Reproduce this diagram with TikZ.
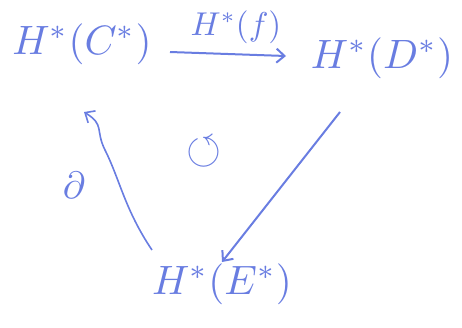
\documentclass[tikz,border=0pt]{standalone}
\usepackage{amssymb}
\usetikzlibrary{arrows.meta}
\definecolor{ink}{RGB}{105,125,225}
\newcommand{\bigtxt}[1]{\scalebox{4.1}{$#1$}}
\newcommand{\midtxt}[1]{\scalebox{3.3}{$#1$}}
\begin{document}
\begin{tikzpicture}[x=1pt,y=-1pt,
  obj/.style={text=ink,inner sep=2pt},
  lbl/.style={text=ink,inner sep=1pt},
  arr/.style={draw=ink,line width=2pt,-{Straight Barb[length=8pt,width=14pt]}}]
\useasboundingbox (0,0) rectangle (462,327);
\node[obj] (C) at (82,44) {\bigtxt{H^*(C^*)}};
\node[obj] (D) at (382,58) {\bigtxt{H^*(D^*)}};
\node[obj] (E) at (222,284) {\bigtxt{H^*(E^*)}};
\coordinate (c1) at (170,52);
\coordinate (d1) at (286,56);
\draw[arr] (c1) -- (d1);
\node[lbl] (f) at (236,27) {\midtxt{H^*(f)}};
\draw[arr] (340,112) coordinate (d2) -- (222,262) coordinate (e2);
\coordinate (e3) at (152,250);
\coordinate (c3) at (84,112);
\draw[arr,line width=1.6pt] (e3) .. controls (125,210) and (120,180) .. (105,150)
  .. controls (95,130) and (105,125) .. (c3);
\node[lbl] (p1) at (74,185) {\scalebox{3.8}{$\partial$}};
\node[lbl] (p2) at (204,152) {\scalebox{4.5}{$\circlearrowleft$}};
\end{tikzpicture}
\end{document}
